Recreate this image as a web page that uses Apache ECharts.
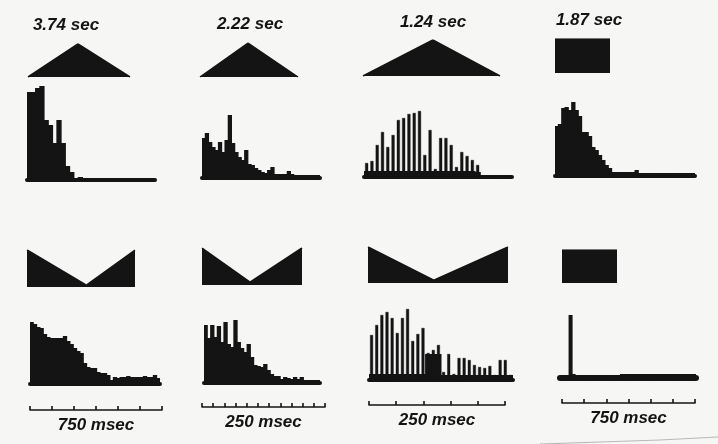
<!DOCTYPE html>
<html>
<head>
<meta charset="utf-8">
<script src="https://cdn.jsdelivr.net/npm/echarts@6/dist/echarts.min.js"></script>
<style>
  html, body { margin: 0; padding: 0; background: #f6f6f4; }
  #chart { width: 718px; height: 444px; }
</style>
</head>
<body>
<div id="chart"></div>
<script>
// Stimulus durations shown above each column
const durationLabels = ['3.74 sec', '2.22 sec', '1.24 sec', '1.87 sec'];
// Time-scale bars under the second row
const scaleLabels = ['750 msec', '250 msec', '250 msec', '750 msec'];
const scaleStepMs = [750, 250, 250, 750];
const scaleSpanMs = [4500, 2750, 1250, 4500];

// Stimulus intensity profiles (normalised time, normalised intensity)
const rampUpDown   = [[0, 0], [0.49, 1], [1, 0]];
const rampUpDownC  = [[0, 0], [0.51, 1], [1, 0]];
const steady       = [[0, 1], [1, 1]];
const rampDownUpA  = [[0, 1], [0.55, 0.05], [1, 1]];
const rampDownUpB  = [[0, 1], [0.48, 0.08], [1, 1]];
const rampDownUpC  = [[0, 1], [0.47, 0.08], [1, 1]];

// Impulse-count histograms (counts per bin)
const histTriA = [88, 88, 92, 94, 60, 55, 37, 60, 37, 14, 8, 2, 3, 1, 2, 1, 2, 1, 1, 0, 1, 1, 0, 0, 1, 0, 0, 1, 0, 0];
const histTriB = [40, 45, 36, 31, 28, 36, 26, 38, 63, 35, 26, 21, 18, 28, 14, 13, 10, 8, 6, 5, 8, 11, 4, 4, 4, 4, 7, 4, 3, 3, 3, 3, 3, 3, 3, 3];
const histTriCSpikes = [14, 16, 32, 45, 30, 42, 57, 59, 63, 64, 66, 22, 47, 8, 39, 39, 32, 10, 25, 21, 17, 12, 0, 0, 0, 0, 0, 0];
const histTriCBase   = [6, 6, 6, 6, 6, 6, 6, 6, 6, 6, 6, 6, 6, 6, 6, 6, 6, 6, 6, 6, 6, 5, 1, 1, 1, 1, 1, 1];
const histRectA = [50, 52, 68, 69, 66, 74, 66, 60, 44, 44, 40, 29, 26, 21, 16, 11, 8, 4, 4, 4, 4, 4, 4, 4, 6, 3, 3, 3, 3, 3, 3, 3, 3, 3, 3, 3, 3, 3, 3, 3, 3, 3];
const histVeeA = [62, 60, 57, 56, 50, 47, 46, 46, 46, 46, 48, 43, 40, 36, 33, 31, 21, 17, 16, 16, 12, 11, 11, 9, 4, 7, 6, 7, 7, 8, 7, 7, 7, 7, 8, 7, 7, 9, 6];
const histVeeB = [58, 45, 58, 46, 57, 41, 61, 39, 36, 63, 41, 35, 31, 39, 26, 18, 17, 16, 19, 13, 9, 7, 7, 4, 6, 5, 4, 6, 4, 6, 3, 3, 3, 3, 3];
const histVeeCSpikes = [45, 55, 65, 68, 62, 47, 62, 71, 39, 46, 52, 27, 30, 35, 8, 26, 6, 22, 22, 20, 15, 13, 12, 14, 5, 20, 20, 5];
const histVeeCBase   = [6, 6, 6, 6, 6, 6, 6, 6, 6, 6, 6, 26, 26, 26, 5, 5, 5, 5, 5, 5, 5, 5, 5, 5, 5, 5, 5, 5];
const histRectB = [3, 3, 3, 63, 4, 3, 3, 3, 3, 3, 3, 3, 3, 3, 3, 3, 3, 3, 3, 3, 4, 4, 4, 4, 4, 4, 4, 4, 4, 4, 4, 4, 4, 4, 4, 4, 4, 4, 4, 4, 4, 4, 4, 4, 4];

const INK = '#141414';
const LABEL_FONT = 'italic bold 17px "Liberation Sans Narrow", "Liberation Sans", sans-serif';
const solidBar = { color: INK };
const spikeBar = { color: INK, borderColor: INK, borderWidth: 0.4 };

// Layout of the four columns, two rows
const profilePanels = [
  { data: rampUpDown,  left: 28,  top: 44,  width: 102, height: 33 },
  { data: rampUpDown,  left: 200, top: 43,  width: 98,  height: 34 },
  { data: rampUpDownC, left: 363, top: 40,  width: 137, height: 36 },
  { data: steady,      left: 555, top: 39,  width: 55,  height: 34 },
  { data: rampDownUpA, left: 27,  top: 250, width: 108, height: 37 },
  { data: rampDownUpB, left: 202, top: 248, width: 100, height: 37 },
  { data: rampDownUpC, left: 368, top: 247, width: 140, height: 36 },
  { data: steady,      left: 562, top: 250, width: 55,  height: 33 }
];

const histPanels = [
  { bars: histTriA,   left: 27,  base: 180, width: 128 },
  { bars: histTriB,   left: 202, base: 178, width: 118 },
  { bars: histTriCSpikes, under: histTriCBase, left: 364, base: 177, width: 148 },
  { bars: histRectA,  left: 555, base: 176, width: 140 },
  { bars: histVeeA,   left: 30,  base: 384, width: 130 },
  { bars: histVeeB,   left: 204, base: 383, width: 116 },
  { bars: histVeeCSpikes, under: histVeeCBase, left: 369, base: 380, width: 144 },
  { bars: histRectB,  left: 560, base: 378, width: 136, axisWidth: 6 }
];

const scaleBars = [
  { left: 30,  y: 410, width: 132 },
  { left: 202, y: 407, width: 123 },
  { left: 369, y: 405, width: 136 },
  { left: 562, y: 403, width: 133 }
];

const labelCenters = [[66, 25], [250, 24], [433, 22], [589, 20]];

const grid = [], xAxis = [], yAxis = [], series = [];

function addGrid(g) { grid.push(g); return grid.length - 1; }

// Stimulus profiles
profilePanels.forEach(p => {
  const gi = addGrid({ left: p.left, top: p.top, width: p.width, height: p.height });
  xAxis.push({ type: 'value', gridIndex: gi, min: 0, max: 1, show: false });
  yAxis.push({ type: 'value', gridIndex: gi, min: 0, max: 1, show: false });
  series.push({
    type: 'line', xAxisIndex: xAxis.length - 1, yAxisIndex: yAxis.length - 1,
    data: p.data, symbol: 'none', silent: true,
    lineStyle: { color: INK, width: 1.5 },
    areaStyle: { color: INK, opacity: 1 }
  });
});

// Histograms: y-units chosen as one count per pixel over a 100-unit axis.
// Solid bars are made one pixel wider than their bin so neighbours overlap without seams.
histPanels.forEach(p => {
  const gi = addGrid({ left: p.left, top: p.base - 100, width: p.width, height: 100 });
  const cats = p.bars.map((_, i) => i);
  const binPx = p.width / p.bars.length;
  yAxis.push({ type: 'value', gridIndex: gi, min: 0, max: 100, show: false });
  const yi = yAxis.length - 1;
  xAxis.push({
    type: 'category', gridIndex: gi, data: cats, boundaryGap: true,
    axisLine: { show: true, lineStyle: { color: INK, width: p.axisWidth || 4, cap: 'round' } },
    axisTick: { show: false }, axisLabel: { show: false }, splitLine: { show: false }
  });
  const xi = xAxis.length - 1;
  if (p.under) {
    series.push({
      type: 'bar', xAxisIndex: xi, yAxisIndex: yi, data: p.under,
      barWidth: binPx + 1, itemStyle: solidBar, silent: true
    });
    xAxis.push({ type: 'category', gridIndex: gi, data: cats, show: false });
    series.push({
      type: 'bar', xAxisIndex: xAxis.length - 1, yAxisIndex: yi, data: p.bars,
      barCategoryGap: '42%', itemStyle: spikeBar, silent: true
    });
  } else {
    series.push({
      type: 'bar', xAxisIndex: xi, yAxisIndex: yi, data: p.bars,
      barWidth: binPx + 1, itemStyle: solidBar, silent: true
    });
  }
});

// Time-scale bars
scaleBars.forEach((s, i) => {
  const gi = addGrid({ left: s.left, top: s.y - 10, width: s.width, height: 10 });
  xAxis.push({
    type: 'value', gridIndex: gi, min: 0, max: scaleSpanMs[i], interval: scaleStepMs[i],
    axisLine: { show: true, lineStyle: { color: INK, width: 1.6 } },
    axisTick: { show: true, inside: true, length: 4, lineStyle: { color: INK, width: 1.6 } },
    axisLabel: { show: false }, splitLine: { show: false },
    name: scaleLabels[i], nameLocation: 'middle', nameGap: 7,
    nameTextStyle: { color: INK, fontSize: 17, fontStyle: 'italic', fontWeight: 'bold',
      fontFamily: '"Liberation Sans Narrow", "Liberation Sans", sans-serif' }
  });
  yAxis.push({ type: 'value', gridIndex: gi, show: false });
  series.push({ type: 'scatter', xAxisIndex: xAxis.length - 1, yAxisIndex: yAxis.length - 1, data: [], silent: true });
});

const graphic = durationLabels.map((t, i) => ({
  type: 'text', x: labelCenters[i][0], y: labelCenters[i][1], silent: true,
  style: { text: t, font: LABEL_FONT, fill: INK, textAlign: 'center', textVerticalAlign: 'middle' }
}));
// faint edge of the sheet at the lower right
graphic.push({
  type: 'polyline', silent: true,
  shape: { points: [[540, 444], [600, 442], [660, 440], [718, 437]] },
  style: { stroke: '#b8b8b8', lineWidth: 1.2, fill: null }
});

const chart = echarts.init(document.getElementById('chart'), null, { renderer: 'canvas' });
chart.setOption({
  backgroundColor: '#f6f6f4',
  animation: false,
  grid, xAxis, yAxis, series, graphic
});
</script>
</body>
</html>
